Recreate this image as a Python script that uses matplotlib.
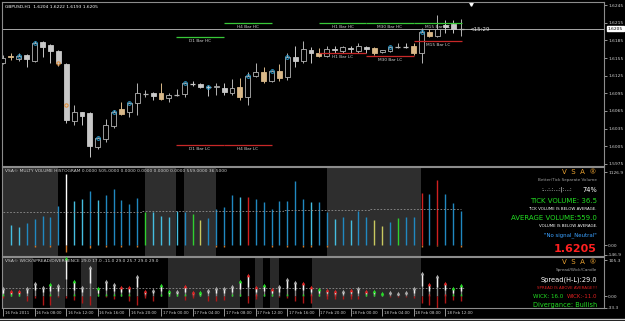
import matplotlib
matplotlib.use("Agg")
import matplotlib.pyplot as plt
from matplotlib.patches import Rectangle
from matplotlib.transforms import blended_transform_factory

W, H = 625, 321

# GBPUSD H1 candles (oldest first)
opens = [1.6146, 1.6158, 1.6153, 1.6160, 1.6150, 1.6182, 1.6177, 1.6167, 1.6145, 1.6048,
         1.6063, 1.6061, 1.6004, 1.6017, 1.6039, 1.6068, 1.6063, 1.6078, 1.6094, 1.6095,
         1.6095, 1.6087, 1.6091, 1.6094, 1.6112, 1.6111, 1.6106, 1.6105, 1.6104, 1.6096,
         1.6106, 1.6089, 1.6124, 1.6131, 1.6116, 1.6133, 1.6123, 1.6157, 1.6150, 1.6169,
         1.6163, 1.6158, 1.6170, 1.6167, 1.6172, 1.6167, 1.6174, 1.6172, 1.6165, 1.6167,
         1.6173, 1.6174, 1.6175, 1.6163, 1.6199, 1.6192, 1.6211, 1.6213, 1.6204]
highs = [1.6160, 1.6163, 1.6163, 1.6162, 1.6184, 1.6184, 1.6179, 1.6168, 1.6146, 1.6075,
         1.6064, 1.6063, 1.6021, 1.6051, 1.6067, 1.6080, 1.6080, 1.6112, 1.6100, 1.6097,
         1.6112, 1.6095, 1.6102, 1.6114, 1.6116, 1.6112, 1.6109, 1.6112, 1.6112, 1.6119,
         1.6121, 1.6131, 1.6146, 1.6140, 1.6135, 1.6145, 1.6163, 1.6175, 1.6184, 1.6174,
         1.6172, 1.6175, 1.6175, 1.6175, 1.6175, 1.6180, 1.6175, 1.6174, 1.6169, 1.6175,
         1.6180, 1.6180, 1.6180, 1.6206, 1.6204, 1.6228, 1.6220, 1.6220, 1.6222]
lows = [1.6145, 1.6152, 1.6150, 1.6140, 1.6148, 1.6157, 1.6146, 1.6141, 1.6044, 1.6041,
        1.6041, 1.5987, 1.6000, 1.6012, 1.6036, 1.6058, 1.6055, 1.6058, 1.6089, 1.6083,
        1.6083, 1.6080, 1.6090, 1.6089, 1.6108, 1.6104, 1.6090, 1.6092, 1.6092, 1.6092,
        1.6083, 1.6075, 1.6122, 1.6112, 1.6114, 1.6116, 1.6118, 1.6140, 1.6146, 1.6146,
        1.6157, 1.6157, 1.6163, 1.6163, 1.6163, 1.6163, 1.6163, 1.6160, 1.6163, 1.6165,
        1.6172, 1.6172, 1.6160, 1.6146, 1.6190, 1.6190, 1.6197, 1.6197, 1.6193]
closes = [1.6155, 1.6156, 1.6158, 1.6153, 1.6180, 1.6174, 1.6167, 1.6146, 1.6050, 1.6063,
          1.6056, 1.6005, 1.6019, 1.6041, 1.6063, 1.6060, 1.6078, 1.6095, 1.6095, 1.6090,
          1.6085, 1.6092, 1.6092, 1.6112, 1.6111, 1.6106, 1.6105, 1.6107, 1.6097, 1.6104,
          1.6089, 1.6124, 1.6131, 1.6116, 1.6133, 1.6121, 1.6157, 1.6150, 1.6170, 1.6163,
          1.6158, 1.6170, 1.6168, 1.6174, 1.6170, 1.6175, 1.6170, 1.6163, 1.6168, 1.6174,
          1.6174, 1.6173, 1.6163, 1.6199, 1.6192, 1.6204, 1.6208, 1.6204, 1.6205]
tan_candles = [1, 15, 20, 30, 33, 35, 40, 47, 52, 54]
blue_marks = [2, 4, 12, 14, 16, 23, 26, 31, 34, 36, 49, 53]
orange_marks = [7, 8]
orange_prices = [1.6146, 1.6075]

price_ticks = [1.6245, 1.6215, 1.6185, 1.6155, 1.6125, 1.6095, 1.6065, 1.6035, 1.6005, 1.5975]
bid = 1.6205

level_names = ["D1 Bar HC", "H4 Bar HC", "H1 Bar HC", "M30 Bar HC", "M15 Bar HC",
               "D1 Bar LC", "H4 Bar LC", "H1 Bar LC", "M30 Bar LC", "M15 Bar LC"]
level_price = [1.6191, 1.6214, 1.6214, 1.6214, 1.6214, 1.6007, 1.6007, 1.6163, 1.6159, 1.6184]
level_from = [21.9, 28, 40, 46, 52, 21.9, 28, 40, 46, 52]
level_to = [28, 34, 46, 52, 58.1, 28, 34, 46, 52, 58.1]

# volume histogram
volume = [0, 315, 279, 345, 406, 447, 431, 599, 1107, 685,
          720, 838, 700, 772, 863, 700, 635, 736, 507, 518,
          457, 431, 533, 507, 483, 391, 416, 559, 583, 777,
          751, 751, 711, 670, 559, 675, 685, 990, 720, 670,
          670, 507, 406, 431, 391, 523, 431, 381, 289, 355,
          416, 442, 442, 812, 787, 1005, 787, 644, 523]
vol_neg = [0, 0, 0, 0, -35, 0, -30, 0, -110, 0,
           0, -40, 0, -35, 0, -35, 0, -35, 0, 0,
           0, 0, 0, 0, 0, 0, 0, -30, -35, 0,
           0, 0, 0, 0, -35, 0, -35, 0, -35, -30,
           0, -35, 0, 0, 0, 0, 0, 0, 0, 0,
           0, 0, 0, -25, 0, -20, 0, 0, -35]
vol_kind = "bccbbbbbwc" + "cbcbbbbbgc" + "cccbgybbbb" + "crbbbbbbbc" + "bbcbcbbyyb" + "gbbrbrbbb"
vol_avg = [505] * 18 + [530] * 18 + [545] * 11 + [559] * 12
vol_shade = [(-0.6, 6.96), (17.97, 21.9), (22.9, 26.96), (41.0, 52.9)]

# wick / spread panel
spread = [25, 17, 15, 25, 39, 28, 36, 32, 110, 44,
          28, 84, 25, 44, 37, 27, 28, 60, 15, 20,
          33, 15, 17, 29, 13, 12, 20, 23, 25, 29,
          46, 63, 28, 32, 22, 31, 51, 42, 39, 28,
          22, 20, 15, 15, 20, 25, 15, 17, 10, 13,
          10, 13, 25, 67, 36, 58, 39, 25, 34]
spread_tip = "nrrnnngngg" + "nngnnrrnrn" + "ggnrrgnnnn" + "grrgrnnnrr" + "grrnrnrggn" + "nnnnrnrgg"
wick_base = "gggnnngnng" + "nngggggnrn" + "ggggrgnnng" + "gnrggngngr" + "grrnrngggn" + "nnnnrnrgg"
wick_low = [-5, 0, 0, -13, -6, -24, -25, -3, -5, -9,
            -19, -24, 0, -3, -8, 0, -12, -24, -5, -13,
            0, 0, 0, -9, -5, 0, -13, -13, -9, 0,
            0, -19, -8, 0, 0, -3, -6, -13, -19, -19,
            0, -8, -8, -8, -8, -8, 0, 0, 0, -3,
            -3, -3, -5, -19, -24, -33, -19, -10, -13]
spread_avg = 25.7
wick_shade = [(-0.6, 3.8), (5.9, 7.8), (9.9, 11.9), (20.9, 30.0), (31.9, 32.9),
              (33.8, 34.9), (39.1, 52.9)]

time_ticks = list(range(0, 57, 4))
time_labels = ["16 Feb 2011", "16 Feb 08:00", "16 Feb 12:00", "16 Feb 16:00", "16 Feb 20:00",
               "17 Feb 00:00", "17 Feb 04:00", "17 Feb 08:00", "17 Feb 12:00", "17 Feb 16:00",
               "17 Feb 20:00", "18 Feb 00:00", "18 Feb 04:00", "18 Feb 08:00", "18 Feb 12:00"]

plt.rcParams['font.family'] = 'DejaVu Sans'
fig = plt.figure(figsize=(W / 100, H / 100), dpi=100, facecolor='black')

GRID = '#8c8c8c'
TXT = '#d0d0d0'


def px_axes(x0, y0, x1, y1):
    ax = fig.add_axes([x0 / W, 1 - y1 / H, (x1 - x0) / W, (y1 - y0) / H])
    ax.set_facecolor('black')
    for s in ax.spines.values():
        s.set_color(GRID)
        s.set_linewidth(0.8)
    ax.set_xlim(-0.13, 76.1)
    ax.set_xticks([])
    ax.yaxis.tick_right()
    ax.tick_params(axis='y', colors=TXT, labelsize=3.2, length=2, width=0.5, pad=1)
    return ax


def ftext(x, y, s, **kw):
    kw.setdefault('va', 'center')
    fig.text(x / W, 1 - y / H, s, **kw)


# ---- main price panel
ax1 = px_axes(2, 2, 604, 166)
ax1.set_ylim(1.59716, 1.62501)
ax1.set_yticks(price_ticks)
ax1.set_yticklabels(["%.4f" % p for p in price_ticks])
ax1.axhline(bid, color='#a8a8a8', lw=0.7)

bw = 0.62
for i in range(len(opens)):
    o, h, l, c = opens[i], highs[i], lows[i], closes[i]
    bull = c >= o
    edge = '#b4b4b4' if bull else '#c8c8c8'
    face = 'black' if bull else '#c8c8c8'
    if i in tan_candles:
        face, edge = '#d9b98a', '#d9b98a'
    ax1.vlines(i, l, h, color=edge, lw=0.7, zorder=2)
    if abs(c - o) < 0.00012:
        ax1.hlines((o + c) / 2, i - bw / 2, i + bw / 2, color=edge, lw=0.9, zorder=3)
    else:
        ax1.add_patch(Rectangle((i - bw / 2, min(o, c)), bw, abs(c - o),
                                facecolor=face, edgecolor=edge, lw=0.6, zorder=3))

ax1.plot(blue_marks, [max(opens[i], closes[i]) for i in blue_marks], 'o', ms=2.6,
         mfc='none', mec='#2fa3d6', mew=0.7, zorder=4)
ax1.plot(orange_marks, orange_prices, 'o', ms=2.4, mfc='none', mec='#e08a30', mew=0.7, zorder=4)

for name, p, a, b in zip(level_names, level_price, level_from, level_to):
    col = '#38c838' if name.endswith('HC') else '#c82828'
    ax1.hlines(p, a, b, color=col, lw=0.9, zorder=5)
    ax1.annotate(name, ((a + b) / 2, p), xytext=(0, -2.8), textcoords='offset points',
                 ha='center', va='center', fontsize=3.1, color=TXT, zorder=6)

ax1.text(59.1, bid - 0.0002, "<15:29", fontsize=4, color='#e0e0e0', va='center')
ax1.plot([59.2], [0.99], 'v', ms=2.5, color='white',
         transform=blended_transform_factory(ax1.transData, ax1.transAxes), clip_on=False)
ax1.text(1.006, bid, "%.4f" % bid, transform=blended_transform_factory(ax1.transAxes, ax1.transData),
         fontsize=3.2, color='black', va='center', ha='left',
         bbox=dict(facecolor='white', edgecolor='white', pad=0.6))
ftext(5, 6.5, "GBPUSD,H1  1.6204 1.6222 1.6193 1.6205", fontsize=3.2, color='white')

# ---- volume panel
ax2 = px_axes(2, 167, 604, 256)
ax2.set_ylim(-170, 1209)
ax2.set_yticks([1126.9, 0.0, -146.9])
ax2.set_yticklabels(["1126.9", "0.00", "-146.9"])
for a, b in vol_shade:
    ax2.axvspan(a, b, color='#2e2e2e', lw=0, zorder=0)
vcols = {'b': '#2088c0', 'c': '#45bde0', 'g': '#2fd02f', 'y': '#c8c860', 'r': '#d02020', 'w': 'white'}
idx = list(range(len(volume)))
ax2.vlines(idx, vol_neg, 0, color='#d2782a', lw=1.0, zorder=2)
ax2.vlines(idx, 0, volume, colors=[vcols[k] for k in vol_kind], lw=1.0, zorder=3)
ax2.plot(idx, vol_avg, ls=(0, (2, 2)), color='#909090', lw=0.6, drawstyle='steps-mid', zorder=4)
ftext(5, 171.5, "VSA\u00a9 MULTY VOLUME HISTOGRAM 0.0000 505.0000 0.0000 0.0000 0.0000 0.0000 559.0000 36.5000",
      fontsize=3.2, color=TXT)

R = 597
ftext(R, 172.5, "V  S  A  \u00ae", fontsize=5, color='#e8a030', ha='right')
ftext(R, 180, "Better/Tick Separate Volume", fontsize=3, color='#a0a0a0', ha='right')
ftext(572, 189.5, ":...:.:...:|:...:", fontsize=4, color='white', ha='right')
ftext(R, 189.5, "74%", fontsize=4.8, color='white', ha='right')
ftext(R, 201, "TICK VOLUME: 36.5", fontsize=5, color='#22dd22', ha='right')
ftext(R, 209.5, "TICK VOLUME IS BELOW AVERAGE.", fontsize=2.9, color='white', ha='right')
ftext(R, 218.5, "AVERAGE VOLUME:559.0", fontsize=5, color='#22dd22', ha='right')
ftext(R, 226, "VOLUME IS BELOW AVERAGE.", fontsize=2.9, color='white', ha='right')
ftext(R, 235, "\"No signal_Neutral\"", fontsize=3.9, color='#3aa0ff', ha='right')
ftext(R, 248.5, "1.6205", fontsize=8, color='#ff2020', ha='right', fontweight='bold')

# ---- wick / spread panel
ax3 = px_axes(2, 257, 604, 308)
ax3.set_ylim(-33.5, 114)
ax3.set_yticks([105.3, 0.0, -33.3])
ax3.set_yticklabels(["105.3", "0.00", "-33.3"])
for a, b in wick_shade:
    ax3.axvspan(a, b, color='#292929', lw=0, zorder=0)
tcols = {'g': '#22dd22', 'r': '#dd2020', 'n': '#a8a8a8'}
for i in idx:
    s = spread[i]
    ax3.vlines(i, 0, s, color='#858585', lw=1.0, zorder=2)
    ax3.vlines(i, s * 0.45, s, color='#f2f2f2', lw=1.0, zorder=3)
    if wick_base[i] != 'n':
        ax3.vlines(i, 0, min(8, s), color=tcols[wick_base[i]], lw=1.0, zorder=4)
    if wick_low[i] < 0:
        ax3.vlines(i, wick_low[i], 0, color='#b01818', lw=1.0, zorder=4)
    ax3.plot(i, s, marker='^', ms=2.6, color=tcols[spread_tip[i]], mew=0, zorder=5)
ax3.axhline(spread_avg, xmax=(58.5 + 0.13) / 76.23, ls=(0, (2, 2)), color='#909090', lw=0.6, zorder=1)
ftext(5, 261, "VSA\u00a9 WICK/SPREAD/DIVERGENCE 29.0 17.0 -11.0 29.0 25.7 29.0 29.0",
      fontsize=3.2, color=TXT)

ftext(R, 262, "V  S  A  \u00ae", fontsize=5, color='#e8a030', ha='right')
ftext(R, 270, "Spread/Wick/Candle", fontsize=3, color='#a0a0a0', ha='right')
ftext(R, 280, "Spread(H-L):29.0", fontsize=4.8, color='white', ha='right')
ftext(R, 288, "SPREAD IS ABOVE AVERAGE!!!", fontsize=2.9, color='#e02020', ha='right')
ftext(563, 297, "WICK: 16.0", fontsize=4, color='#22dd22', ha='right')
ftext(R, 297, "WICK:-11.0", fontsize=4, color='#e02020', ha='right')
ftext(R, 305, "Divergance: Bullish", fontsize=4.8, color='#22dd22', ha='right')

# time axis
ax3.set_xticks(time_ticks)
ax3.set_xticklabels([])
ax3.tick_params(axis='x', colors=TXT, length=6, width=0.5, direction='out')
tr = blended_transform_factory(ax3.transData, ax3.transAxes)
for t, lab in zip(time_ticks, time_labels):
    ax3.text(t + 0.2, -0.1, lab, transform=tr, fontsize=2.8, color=TXT,
             ha='left', va='center', clip_on=False)

fig.add_artist(plt.Line2D([0, 1], [1 - 318.5 / H, 1 - 318.5 / H], color='#c8c8c8', lw=1.0))

fig.savefig("out.png", dpi=100, facecolor='black')
